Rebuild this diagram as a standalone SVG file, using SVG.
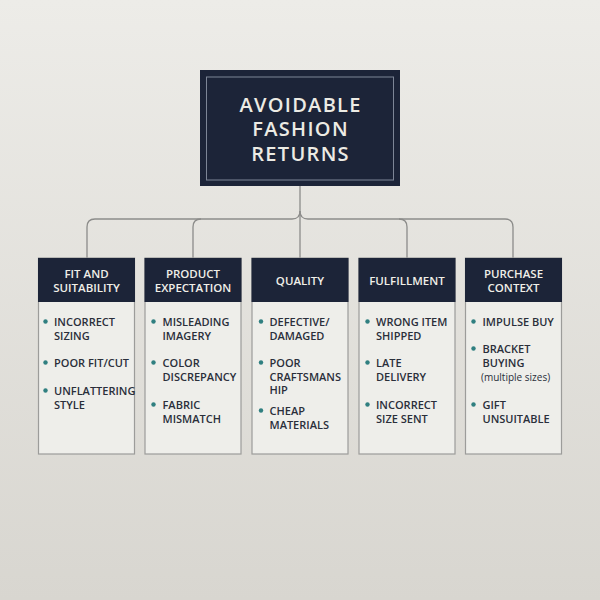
<svg xmlns="http://www.w3.org/2000/svg" width="600" height="600" viewBox="0 0 600 600">
<defs>
<linearGradient id="bg" x1="0" y1="0" x2="0" y2="1">
<stop offset="0" stop-color="#edece8"/>
<stop offset="1" stop-color="#d8d6d0"/>
</linearGradient>
<style>
.title{font-family:"Open Sans","Noto Sans",sans-serif;font-size:20px;fill:#ecebe4;text-anchor:middle;font-weight:600;letter-spacing:1.3px}
.hd{fill:#1c2438}
.hdt{font-family:"Open Sans","Noto Sans",sans-serif;font-size:11.5px;fill:#f0efe8;text-anchor:middle;font-weight:600}
.body{fill:#eeeeea;stroke:#9c9c9a;stroke-width:1.2}
.it{font-family:"Open Sans","Noto Sans",sans-serif;font-size:11px;fill:#2a2f3a;font-weight:600}
.sm{font-size:10px;font-weight:500}
.dot{fill:#2f7f80}
.conn{fill:none;stroke:#8c8c8a;stroke-width:1.3}
</style>
</defs>
<rect width="600" height="600" fill="url(#bg)"/>
<g id="connectors">
<path class="conn" d="M300 186 V258"/>
<path class="conn" d="M87 258 V227 Q87 219 95 219 H292 Q300 219 300 211"/>
<path class="conn" d="M193 258 V227 Q193 219 201 219"/>
<path class="conn" d="M513 258 V227 Q513 219 505 219 H308 Q300 219 300 211"/>
<path class="conn" d="M407 258 V227 Q407 219 399 219"/>
</g>
<g id="root">
<rect x="200" y="70" width="200" height="116" fill="#1c2438"/>
<rect x="206.5" y="77" width="187" height="103" fill="none" stroke="#7d8596" stroke-width="1"/>
<text class="title" x="300.6" y="111.5">AVOIDABLE</text>
<text class="title" x="300.6" y="136">FASHION</text>
<text class="title" x="300.6" y="160.5">RETURNS</text>
</g>
<g id="fit">
<rect class="body" x="38.5" y="258" width="96" height="196"/>
<rect class="hd" x="38" y="258" width="97" height="44"/>
<text class="hdt" x="86.5" y="278">FIT AND</text>
<text class="hdt" x="86.5" y="292">SUITABILITY</text>
<circle class="dot" cx="45.5" cy="321.5" r="2.2"/>
<text class="it" x="54" y="326">INCORRECT</text>
<text class="it" x="54" y="339.5">SIZING</text>
<circle class="dot" cx="45.5" cy="362.5" r="2.2"/>
<text class="it" x="54" y="367">POOR FIT/CUT</text>
<circle class="dot" cx="45.5" cy="390.5" r="2.2"/>
<text class="it" x="54" y="395">UNFLATTERING</text>
<text class="it" x="54" y="408.5">STYLE</text>
</g>
<g id="product">
<rect class="body" x="145" y="258" width="96" height="196"/>
<rect class="hd" x="144.5" y="258" width="97" height="44"/>
<text class="hdt" x="193" y="278">PRODUCT</text>
<text class="hdt" x="193" y="292">EXPECTATION</text>
<circle class="dot" cx="153.5" cy="321.5" r="2.2"/>
<text class="it" x="162.5" y="326">MISLEADING</text>
<text class="it" x="162.5" y="339.5">IMAGERY</text>
<circle class="dot" cx="153.5" cy="362.5" r="2.2"/>
<text class="it" x="162.5" y="367">COLOR</text>
<text class="it" x="162.5" y="380.5">DISCREPANCY</text>
<circle class="dot" cx="153.5" cy="404.5" r="2.2"/>
<text class="it" x="162.5" y="409">FABRIC</text>
<text class="it" x="162.5" y="422.5">MISMATCH</text>
</g>
<g id="quality">
<rect class="body" x="252" y="258" width="96" height="196"/>
<rect class="hd" x="251.5" y="258" width="97" height="44"/>
<text class="hdt" x="300" y="285">QUALITY</text>
<circle class="dot" cx="261" cy="321.5" r="2.2"/>
<text class="it" x="269.5" y="326">DEFECTIVE/</text>
<text class="it" x="269.5" y="339.5">DAMAGED</text>
<circle class="dot" cx="261" cy="362.5" r="2.2"/>
<text class="it" x="269.5" y="367">POOR</text>
<text class="it" x="269.5" y="380.5">CRAFTSMANS</text>
<text class="it" x="269.5" y="394">HIP</text>
<circle class="dot" cx="261" cy="410.5" r="2.2"/>
<text class="it" x="269.5" y="415">CHEAP</text>
<text class="it" x="269.5" y="428.5">MATERIALS</text>
</g>
<g id="fulfillment">
<rect class="body" x="359" y="258" width="96" height="196"/>
<rect class="hd" x="358.5" y="258" width="97" height="44"/>
<text class="hdt" x="407" y="285">FULFILLMENT</text>
<circle class="dot" cx="367.5" cy="321.5" r="2.2"/>
<text class="it" x="376" y="326">WRONG ITEM</text>
<text class="it" x="376" y="339.5">SHIPPED</text>
<circle class="dot" cx="367.5" cy="362.5" r="2.2"/>
<text class="it" x="376" y="367">LATE</text>
<text class="it" x="376" y="380.5">DELIVERY</text>
<circle class="dot" cx="367.5" cy="404.5" r="2.2"/>
<text class="it" x="376" y="409">INCORRECT</text>
<text class="it" x="376" y="422.5">SIZE SENT</text>
</g>
<g id="purchase">
<rect class="body" x="465.5" y="258" width="96" height="196"/>
<rect class="hd" x="465" y="258" width="97" height="44"/>
<text class="hdt" x="513.5" y="278">PURCHASE</text>
<text class="hdt" x="513.5" y="292">CONTEXT</text>
<circle class="dot" cx="473.5" cy="321.5" r="2.2"/>
<text class="it" x="482.5" y="326">IMPULSE BUY</text>
<circle class="dot" cx="473.5" cy="348.5" r="2.2"/>
<text class="it" x="482.5" y="353">BRACKET</text>
<text class="it" x="482.5" y="366.5">BUYING</text>
<text class="it sm" x="481" y="380.5">(multiple sizes)</text>
<circle class="dot" cx="473.5" cy="404.5" r="2.2"/>
<text class="it" x="482.5" y="409">GIFT</text>
<text class="it" x="482.5" y="422.5">UNSUITABLE</text>
</g>
</svg>
